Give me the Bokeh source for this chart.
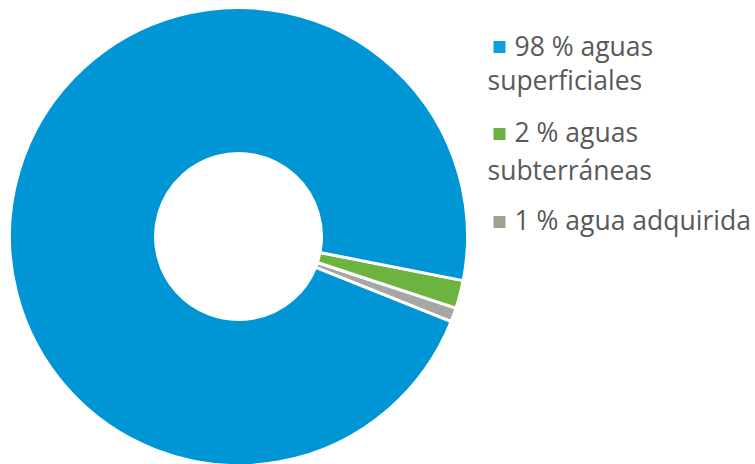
import math
from bokeh.plotting import figure
from bokeh.models import ColumnDataSource
from bokeh.core.properties import value
from bokeh.embed import file_html
from bokeh.resources import INLINE

# Data
categories = ["aguas superficiales", "aguas subterráneas", "agua adquirida"]
percent = [98, 2, 1]
label_line1 = ["98 % aguas", "2 % aguas", "1 % agua adquirida"]
label_line2 = ["superficiales", "subterráneas", ""]

# Styles
slice_colors = ["#0096D6", "#6DB33F", "#A6A6A6"]
legend_colors = ["#0AA0E0", "#6AB23F", "#A0A28F"]
text_color = "#595959"

W, H = 755, 464
p = figure(width=W, height=H, x_range=(0, W), y_range=(0, H),
           output_backend="svg", toolbar_location=None, min_border=0)
p.axis.visible = False
p.grid.visible = False
p.outline_line_color = None
p.background_fill_color = "white"
p.border_fill_color = "white"

cx, cy = 238, H - 236
r_out, r_in = 229, 83
base = math.radians(-21.8)
total = sum(percent)

# go anticlockwise: last category first
starts, ends, cols = [], [], []
a = base
for i in reversed(range(len(percent))):
    span = 2 * math.pi * percent[i] / total
    starts.append(a)
    ends.append(a + span)
    cols.append(slice_colors[i])
    a += span

src = ColumnDataSource(dict(start=starts, end=ends, color=cols))
p.annular_wedge(x=cx, y=cy, inner_radius=r_in, outer_radius=r_out,
                start_angle="start", end_angle="end", source=src,
                fill_color="color", line_color="white", line_width=3)

# Legend
font = value("Open Sans")
fs = "26.5px"
sq_x = [499, 499, 499]
sq_y = [H - 46.5, H - 133.5, H - 221.5]
p.rect(x=sq_x, y=sq_y, width=12, height=12, fill_color=legend_colors,
       line_color=None)

l1_y = [H - 45, H - 131, H - 219]
l2_y = [H - 79, H - 169]
p.text(x=[514] * 3, y=l1_y, text=label_line1, text_font=font,
       text_font_size=fs, text_color=text_color, text_baseline="middle")
p.text(x=[487, 487], y=l2_y, text=label_line2[:2], text_font=font,
       text_font_size=fs, text_color=text_color, text_baseline="middle")

open("out.html", "w").write(file_html(p, INLINE))
